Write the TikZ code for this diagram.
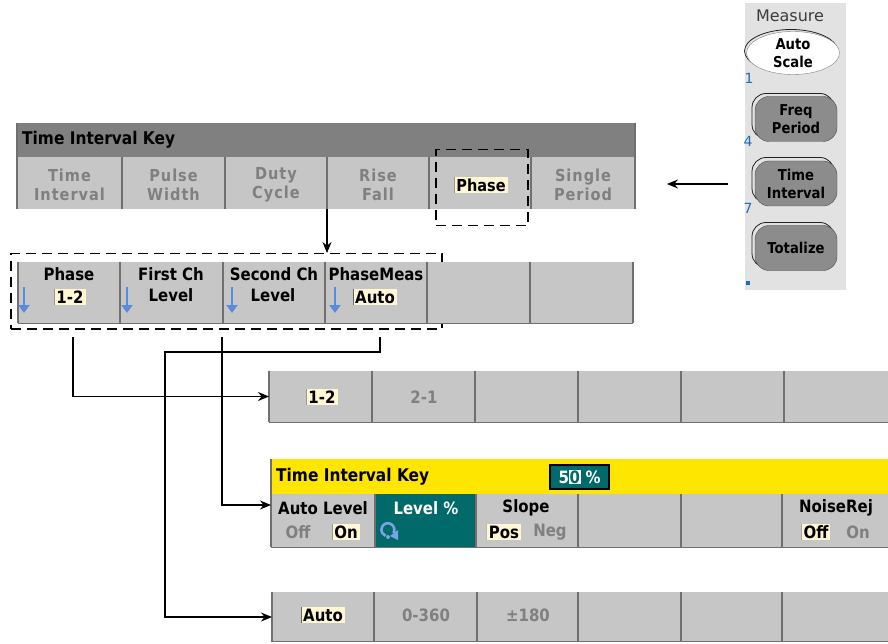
\documentclass[tikz,border=0pt]{standalone}
\usepackage{fontspec}
\setmainfont{DejaVu Sans}
\newfontfamily\kfont[FakeStretch=0.88]{DejaVu Sans}
\newfontfamily\kfontsp[FakeStretch=0.88,LetterSpace=6]{DejaVu Sans}
\usetikzlibrary{arrows.meta,shapes.geometric}
\newcommand\fsz[2]{\fontsize{#1}{#2}\selectfont}
\definecolor{cellgray}{RGB}{198,198,198}
\definecolor{titlegray}{RGB}{128,128,128}
\definecolor{divgray}{RGB}{112,112,112}
\definecolor{cream}{RGB}{255,246,212}
\definecolor{txtgray}{RGB}{128,128,128}
\definecolor{tyellow}{RGB}{255,230,0}
\definecolor{tealc}{RGB}{0,106,106}
\definecolor{arrowblue}{RGB}{88,140,222}
\definecolor{numblue}{RGB}{30,110,185}
\definecolor{panelgray}{RGB}{226,226,226}
\definecolor{btngray}{RGB}{140,140,140}
\definecolor{measgray}{RGB}{60,60,60}
\tikzset{
 cell/.style={fill=cellgray, anchor=north west, inner sep=0pt, outer sep=0pt},
 lab/.style={font=\kfont\bfseries\fsz{17}{20}, text=black, inner sep=0pt, align=center},
 glab/.style={font=\kfontsp\bfseries\fsz{16.5}{19}, text=txtgray, inner sep=0pt, align=center},
 gsmall/.style={font=\kfont\bfseries\fsz{17}{20}, text=txtgray, inner sep=0pt},
 hl/.style={fill=cream, inner xsep=2pt, inner ysep=1.5pt, font=\kfont\bfseries\fsz{17}{20}, text=black,
   path picture={\draw[black!60, line width=0.9pt] (path picture bounding box.south west) -- (path picture bounding box.north west);}},
 divl/.style={draw=divgray, line width=1.4pt},
 edgel/.style={draw=divgray, line width=1pt},
 conn/.style={draw=black, line width=1.2pt, -{Stealth[length=11pt,width=9pt]}},
 dbox/.style={draw=black, line width=1.5pt, dash pattern=on 10pt off 6pt},
 dnarrow/.style={draw=arrowblue, line width=2.6pt, -{Triangle[length=8pt,width=11pt]}},
 pbtn/.style={fill=btngray, draw=gray!60!black, rounded corners=14pt, minimum width=82pt, minimum height=45pt, inner sep=0pt, font=\kfont\bfseries\fsz{15}{18}, align=center, text=black},
 bevel/.style={draw=gray!25!black, line width=0.8pt, rounded corners=14pt, minimum width=82pt, minimum height=45pt, inner sep=0pt},
 num/.style={font=\fsz{14}{16}, text=numblue, inner sep=0pt},
}
\begin{document}
\begin{tikzpicture}[x=1pt,y=-1pt]
\useasboundingbox (0,0) rectangle (888,644);
\fill[white] (0,0) rectangle (888,644);

% ===== Measure panel
\fill[panelgray] (745,3) rectangle (846,290);
\node[font=\fsz{16}{18}, text=measgray, inner sep=0pt] (meas) at (790,16) {Measure};
\draw[gray!25!black, line width=0.8pt] (791,51) ellipse [x radius=46.5, y radius=21.5];
\node[ellipse, fill=white, draw=gray, minimum width=93pt, minimum height=43pt, inner sep=0pt,
      font=\kfont\bfseries\fsz{15}{18}, align=center] (as) at (793,53) {Auto\\Scale};
\node[num] (n1) at (749,78) {1};
\node[bevel] (fpb) at (793,116) {};
\node[pbtn] (fp) at (796,119) {Freq\\Period};
\node[num] (n4) at (748,141) {4};
\node[bevel] (tib) at (793,180) {};
\node[pbtn] (ti) at (796,183.5) {Time\\Interval};
\node[num] (n7) at (748,208) {7};
\node[bevel] (totb) at (793,245) {};
\node[pbtn] (tot) at (796,248) {Totalize};
\fill[numblue] (746,281) rectangle (750,285);

\coordinate (pa) at (728,184);
\coordinate (pb) at (667,184);
\draw[conn] (pa) -- (pb);

% ===== Top menu
\node[cell, fill=titlegray, minimum width=618pt, minimum height=34pt] (title) at (17,123) {};
\node[font=\kfont\bfseries\fsz{17.5}{20}, anchor=west, inner sep=0pt] (titletxt) at (22,140) {Time Interval Key};
\node[cell, minimum width=105pt, minimum height=52pt] (t1) at (17,157) {};
\node[cell, minimum width=103pt, minimum height=52pt] (t2) at (122,157) {};
\node[cell, minimum width=102pt, minimum height=52pt] (t3) at (225,157) {};
\node[cell, minimum width=102pt, minimum height=52pt] (t4) at (327,157) {};
\node[cell, minimum width=102pt, minimum height=52pt] (t5) at (429,157) {};
\node[cell, minimum width=104pt, minimum height=52pt] (t6) at (531,157) {};
\foreach \x in {122,225,327,429,531} \draw[divl] (\x,157) -- (\x,209);
\draw[divl] (17,123) -- (17,209);
\draw[divl] (635,123) -- (635,209);
\node[glab] (t1l) at ([yshift=-1.5pt]t1.center) {Time\\Interval};
\node[glab] (t2l) at ([yshift=-1.5pt]t2.center) {Pulse\\Width};
\node[glab] (t3l) at ([yshift=-1.5pt]t3.center) {Duty\\Cycle};
\node[glab] (t4l) at ([yshift=-1.5pt]t4.center) {Rise\\Fall};
\node[hl, font=\kfont\bfseries\fsz{16.5}{19}] (t5l) at (481,185) {Phase};
\node[glab] (t6l) at ([yshift=-1.5pt]t6.center) {Single\\Period};
\node[dbox, anchor=north west, minimum width=92pt, minimum height=76pt, inner sep=0pt] (pbox) at (435,149) {};

% ===== Second menu
\node[dbox, anchor=north west, minimum width=431pt, minimum height=75pt, inner sep=0pt] (sbox) at (10,253) {};
\node[cell, minimum width=102pt, minimum height=61pt] (s1) at (18,262) {};
\node[cell, minimum width=103pt, minimum height=61pt] (s2) at (120,262) {};
\node[cell, minimum width=102pt, minimum height=61pt] (s3) at (223,262) {};
\node[cell, minimum width=102pt, minimum height=61pt] (s4) at (325,262) {};
\node[cell, minimum width=103pt, minimum height=61pt] (s5) at (427,262) {};
\node[cell, minimum width=103pt, minimum height=61pt] (s6) at (530,262) {};
\foreach \x in {120,223,325,427,530} \draw[divl] (\x,262) -- (\x,323);
\draw[divl] (18,262) -- (18,323);
\draw[divl] (633,262) -- (633,323);
\draw[edgel] (18,323) -- (633,323);
\node[lab] (s1a) at (69,274) {Phase};
\node[hl] (s1b) at (70,297) {1-2};
\node[lab] (s2a) at (171,274) {First Ch};
\node[lab] (s2b) at (171,295) {Level};
\node[lab] (s3a) at (274,274) {Second Ch};
\node[lab] (s3b) at (273,295) {Level};
\node[lab] (s4a) at (376,274) {PhaseMeas};
\node[hl] (s4b) at (375,297) {Auto};
\foreach \x in {24,127,232,335} \draw[dnarrow] (\x,287) -- (\x,313);

\draw[conn] (t4.south west) -- (t4.south west |- sbox.north);

% ===== Row A
\node[cell, minimum width=103pt, minimum height=51pt] (a1) at (269,371) {};
\node[cell, minimum width=103pt, minimum height=51pt] (a2) at (372,371) {};
\node[cell, minimum width=103pt, minimum height=51pt] (a3) at (475,371) {};
\node[cell, minimum width=103pt, minimum height=51pt] (a4) at (578,371) {};
\node[cell, minimum width=103pt, minimum height=51pt] (a5) at (681,371) {};
\node[cell, minimum width=104pt, minimum height=51pt] (a6) at (784,371) {};
\foreach \x in {372,475,578,681,784} \draw[divl] (\x,371) -- (\x,422);
\draw[divl] (269,371) -- (269,422);
\draw[edgel] (269,422) -- (888,422);
\node[hl] (a1l) at (322,397) {1-2};
\node[gsmall] (a2l) at (424,397) {2-1};

% ===== Row B
\node[cell, fill=tyellow, minimum width=617pt, minimum height=35pt] (ybar) at (271,459) {};
\node[font=\kfont\bfseries\fsz{17.5}{20}, anchor=west, inner sep=0pt] (ytxt) at (276,477) {Time Interval Key};
\node[fill=tealc, draw=black, line width=1.5pt, minimum width=59pt, minimum height=24pt, inner sep=0pt,
      font=\kfont\bfseries\fsz{17}{20}, text=white] (pct) at (579.5,477)
      {5{\fboxsep=0.6pt\colorbox{white}{\textcolor{tealc}{0}}}\hspace{5pt}\%};
\node[cell, minimum width=104pt, minimum height=53pt] (b1) at (271,494) {};
\node[cell, fill=tealc, minimum width=101pt, minimum height=53pt] (b2) at (375,494) {};
\node[cell, minimum width=102pt, minimum height=53pt] (b3) at (476,494) {};
\node[cell, minimum width=103pt, minimum height=53pt] (b4) at (578,494) {};
\node[cell, minimum width=101pt, minimum height=53pt] (b5) at (681,494) {};
\node[cell, minimum width=106pt, minimum height=53pt] (b6) at (782,494) {};
\foreach \x in {375,476,578,681,782} \draw[divl] (\x,494) -- (\x,547);
\draw[divl] (271,459) -- (271,547);
\draw[edgel] (271,547) -- (888,547);
\node[lab] (b1a) at (323,508) {Auto Level};
\node[gsmall] (b1b) at (298,532) {Off};
\node[hl] (b1c) at (346,532) {On};
\node[lab, text=white] (b2a) at (426,508) {Level \%};
\draw[arrowblue!80!white, line width=2.6pt] (393.5,533) arc[start angle=-30, end angle=250, radius=6.5pt];
\fill[arrowblue!80!white] (388,537) circle (2pt);
\fill[arrowblue!80!white] (390,536) -- (398,530) -- (398,540) -- cycle;
\node[lab] (b3a) at (526,508) {Slope};
\node[hl] (b3b) at (504,532) {Pos};
\node[gsmall] (b3c) at (550,532) {Neg};
\node[lab] (b6a) at (836,508) {NoiseRej};
\node[hl] (b6b) at (816,532) {Off};
\node[gsmall] (b6c) at (858,532) {On};

% ===== Row C
\node[cell, minimum width=102pt, minimum height=50pt] (c1) at (272,592) {};
\node[cell, minimum width=103pt, minimum height=50pt] (c2) at (374,592) {};
\node[cell, minimum width=101pt, minimum height=50pt] (c3) at (477,592) {};
\node[cell, minimum width=103pt, minimum height=50pt] (c4) at (578,592) {};
\node[cell, minimum width=101pt, minimum height=50pt] (c5) at (681,592) {};
\node[cell, minimum width=106pt, minimum height=50pt] (c6) at (782,592) {};
\foreach \x in {374,477,578,681,782} \draw[divl] (\x,592) -- (\x,642);
\draw[divl] (272,592) -- (272,642);
\draw[edgel] (272,641.5) -- (888,641.5);
\node[hl] (c1l) at (323,615) {Auto};
\node[gsmall] (c2l) at (426,615) {0-360};
\node[gsmall] (c3l) at (528,615) {±180};

% ===== Connectors
\coordinate (p1) at (73,337);
\coordinate (p2) at (222,337);
\coordinate (p3) at (380,337);
\coordinate (p3k) at (165,352);
\draw[conn] (p1) |- (a1.west);
\draw[conn] (p2) |- ([yshift=-11pt]b1.north west);
\draw[conn] (p3) |- (p3k) |- (c1.west);
\end{tikzpicture}
\end{document}
